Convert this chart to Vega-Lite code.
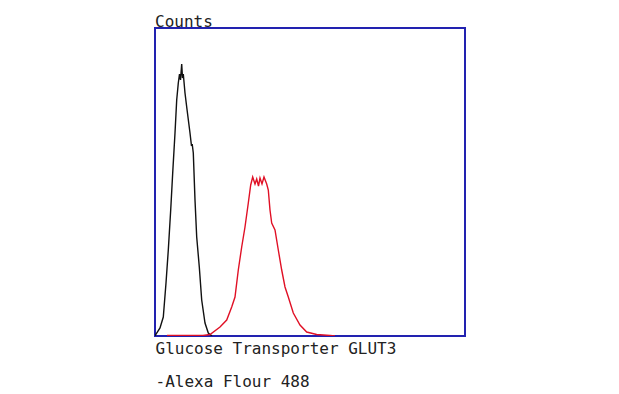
{
  "$schema": "https://vega.github.io/schema/vega-lite/v6.json",
  "width": 310,
  "height": 308,
  "autosize": {"type": "none"},
  "padding": {"left": 155, "top": 28, "right": 154, "bottom": 58},
  "background": "#ffffff",
  "config": {
    "view": {"stroke": "#2222b0", "strokeWidth": 2},
    "font": "DejaVu Sans Mono"
  },
  "title": {
    "text": "Counts",
    "anchor": "start",
    "frame": "group",
    "font": "DejaVu Sans Mono",
    "fontSize": 16,
    "fontWeight": "normal",
    "color": "#222222",
    "baseline": "alphabetic",
    "offset": 2,
    "dy": 16.5
  },
  "data": {
    "values": [
      {"series": "control", "x": 0, "y": 0},
      {"series": "control", "x": 1.7, "y": 3},
      {"series": "control", "x": 5, "y": 8},
      {"series": "control", "x": 8.3, "y": 19},
      {"series": "control", "x": 11, "y": 53},
      {"series": "control", "x": 13.3, "y": 86},
      {"series": "control", "x": 15.7, "y": 126},
      {"series": "control", "x": 17.7, "y": 163},
      {"series": "control", "x": 20, "y": 203},
      {"series": "control", "x": 21.7, "y": 236},
      {"series": "control", "x": 23.3, "y": 253},
      {"series": "control", "x": 24.5, "y": 262},
      {"series": "control", "x": 25.5, "y": 256},
      {"series": "control", "x": 26.7, "y": 272},
      {"series": "control", "x": 27.5, "y": 258},
      {"series": "control", "x": 28.3, "y": 262},
      {"series": "control", "x": 30, "y": 243},
      {"series": "control", "x": 31.7, "y": 229},
      {"series": "control", "x": 35, "y": 203},
      {"series": "control", "x": 36.5, "y": 190},
      {"series": "control", "x": 37.2, "y": 192},
      {"series": "control", "x": 38.3, "y": 183},
      {"series": "control", "x": 40, "y": 136},
      {"series": "control", "x": 41.7, "y": 99},
      {"series": "control", "x": 44.3, "y": 69},
      {"series": "control", "x": 46.7, "y": 36},
      {"series": "control", "x": 50, "y": 13},
      {"series": "control", "x": 53.3, "y": 3},
      {"series": "control", "x": 57, "y": 0},
      {"series": "GLUT3", "x": 12, "y": 0.5},
      {"series": "GLUT3", "x": 30, "y": 0.5},
      {"series": "GLUT3", "x": 48, "y": 0.5},
      {"series": "GLUT3", "x": 55, "y": 1.5},
      {"series": "GLUT3", "x": 65, "y": 9},
      {"series": "GLUT3", "x": 71.7, "y": 16},
      {"series": "GLUT3", "x": 76.7, "y": 29},
      {"series": "GLUT3", "x": 80, "y": 39},
      {"series": "GLUT3", "x": 83.3, "y": 66},
      {"series": "GLUT3", "x": 86.7, "y": 89},
      {"series": "GLUT3", "x": 90, "y": 109},
      {"series": "GLUT3", "x": 93.3, "y": 133},
      {"series": "GLUT3", "x": 95.7, "y": 151},
      {"series": "GLUT3", "x": 97.7, "y": 159},
      {"series": "GLUT3", "x": 100, "y": 152},
      {"series": "GLUT3", "x": 101.7, "y": 157},
      {"series": "GLUT3", "x": 103.5, "y": 150},
      {"series": "GLUT3", "x": 105, "y": 158},
      {"series": "GLUT3", "x": 107, "y": 152},
      {"series": "GLUT3", "x": 109, "y": 159},
      {"series": "GLUT3", "x": 111.7, "y": 152},
      {"series": "GLUT3", "x": 113.3, "y": 146},
      {"series": "GLUT3", "x": 115, "y": 126},
      {"series": "GLUT3", "x": 116.7, "y": 113},
      {"series": "GLUT3", "x": 120, "y": 106},
      {"series": "GLUT3", "x": 123.3, "y": 86},
      {"series": "GLUT3", "x": 126.7, "y": 66},
      {"series": "GLUT3", "x": 130, "y": 49},
      {"series": "GLUT3", "x": 133.3, "y": 39},
      {"series": "GLUT3", "x": 138.3, "y": 23},
      {"series": "GLUT3", "x": 145, "y": 11},
      {"series": "GLUT3", "x": 151.7, "y": 4},
      {"series": "GLUT3", "x": 161.7, "y": 1.5},
      {"series": "GLUT3", "x": 175, "y": 0.5},
      {"series": "GLUT3", "x": 180, "y": 0}
    ]
  },
  "mark": {"type": "line", "strokeWidth": 1.4, "interpolate": "linear", "clip": true},
  "encoding": {
    "x": {
      "field": "x",
      "type": "quantitative",
      "scale": {"domain": [0, 310], "nice": false, "zero": false},
      "axis": {
        "domain": false,
        "ticks": false,
        "labels": false,
        "grid": false,
        "title": ["Glucose Transporter GLUT3", "-Alexa Flour 488"],
        "titleFont": "DejaVu Sans Mono",
        "titleFontSize": 16,
        "titleFontWeight": "normal",
        "titleColor": "#222222",
        "titleAnchor": "start",
        "titleAlign": "left",
        "titleLineHeight": 33,
        "titlePadding": 4
      }
    },
    "y": {
      "field": "y",
      "type": "quantitative",
      "scale": {"domain": [0, 308], "nice": false},
      "axis": null
    },
    "color": {
      "field": "series",
      "type": "nominal",
      "scale": {"domain": ["control", "GLUT3"], "range": ["#111111", "#e01025"]},
      "legend": null
    },
    "order": {"field": "x", "type": "quantitative"}
  }
}
